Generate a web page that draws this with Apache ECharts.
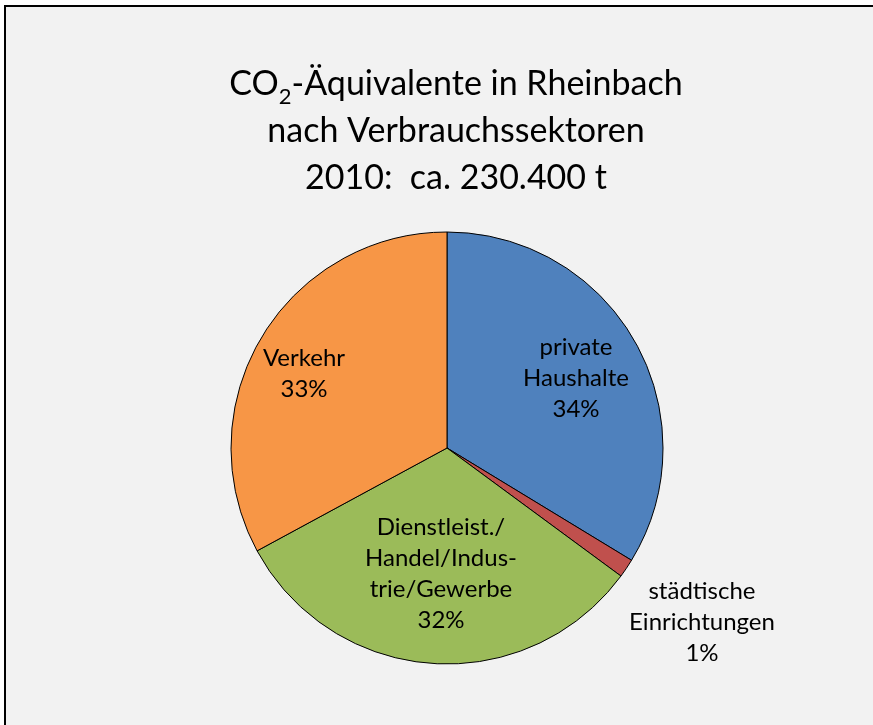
<!DOCTYPE html>
<html><head><meta charset="utf-8">
<script src="https://cdn.jsdelivr.net/npm/echarts@6/dist/echarts.min.js"></script>
<style>html,body{margin:0;padding:0;background:#fff}#c{width:873px;height:725px}</style>
</head><body><div id="c"></div>
<script>
var categories = ['private\nHaushalte', 'städtische\nEinrichtungen', 'Dienstleist./\nHandel/Indus-\ntrie/Gewerbe', 'Verkehr'];
var values = [33.7, 1.4, 32.0, 32.9];
var colors = ['#4F81BD', '#C0504D', '#9BBB59', '#F79646'];
var labelPos = [[576, 378], [702, 622], [441, 574], [304, 374]];

var FONT = 'Lato, "Open Sans", sans-serif';
var chart = echarts.init(document.getElementById('c'), null, {renderer: 'canvas'});
chart.setOption({
  backgroundColor: '#ffffff',
  animation: false,
  graphic: [{
    type: 'rect', z: -10,
    shape: {x: 5, y: 6, width: 900, height: 800},
    style: {fill: '#F2F2F2', stroke: '#000', lineWidth: 2}
  }],
  title: {
    text: '{t|CO}{s|2}{t|-Äquivalente in Rheinbach}\n{t|nach Verbrauchssektoren}\n{t|2010:  ca. 230.400 t}',
    left: 451, top: 56, textAlign: 'center',
    textStyle: {
      fontWeight: 'normal',
      rich: {
        t: {fontFamily: FONT, fontSize: 34, fontWeight: 'normal', color: '#000', lineHeight: 47},
        s: {fontFamily: FONT, fontSize: 22, fontWeight: 'normal', color: '#000', lineHeight: 47, verticalAlign: 'bottom'}
      }
    }
  },
  series: [{
    type: 'pie',
    center: [447, 448],
    radius: 216,
    startAngle: 90,
    clockwise: true,
    data: categories.map(function (c, i) {
      return {name: c, value: values[i], itemStyle: {color: colors[i]}};
    }),
    itemStyle: {borderColor: '#000', borderWidth: 1},
    label: {
      show: true, position: 'inside',
      fontFamily: FONT, fontSize: 24, color: '#000', lineHeight: 31, align: 'center',
      formatter: function (p) { return p.name + '\n' + Math.round(p.value) + '%'; }
    },
    labelLine: {show: false},
    labelLayout: function (p) {
      var pos = labelPos[p.dataIndex];
      return {x: pos[0], y: pos[1], align: 'center', verticalAlign: 'middle'};
    },
    emphasis: {disabled: true}
  }]
});
</script></body></html>
